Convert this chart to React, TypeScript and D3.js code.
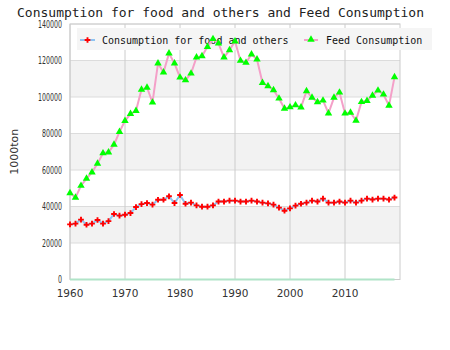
import React from "react";
import * as d3 from "d3";

const years: number[] = d3.range(1960, 2020);
const foodValues: number[] = [
  30200, 30600, 32800, 30000, 30600, 32600, 30600, 32000, 35900, 35000,
  35500, 36400, 39700, 41300, 41900, 41000, 43700, 43700, 45600, 41900,
  46300, 41500, 42100, 40600, 39900, 39900, 40600, 42700, 42700, 43200,
  43200, 42700, 42700, 43200, 42700, 42100, 41700, 41000, 39400, 37700,
  39000, 40500, 41500, 42100, 43200, 42700, 44300, 42100, 42100, 42700,
  42100, 43200, 42100, 43200, 44300, 43800, 44300, 44300, 43800, 44900,
];
const feedValues: number[] = [
  47400, 44850, 51400, 55300, 58700, 63500, 69200, 69700, 73900, 80900,
  86900, 90800, 92400, 104100, 105200, 97000, 118400, 113500, 123900, 118400,
  110700, 109200, 112900, 121700, 122400, 127500, 131800, 129400, 121700, 125700,
  130500, 119900, 118800, 123400, 120600, 107800, 106000, 103800, 99200, 93700,
  94400, 95500, 94300, 103200, 99700, 97200, 98100, 91100, 99700, 102500,
  91000, 91500, 87100, 97300, 97900, 100800, 103600, 101400, 95300, 110900,
];
const yTicks: number[] = [0, 20000, 40000, 60000, 80000, 100000, 120000, 140000];
const xTicks: number[] = [1960, 1970, 1980, 1990, 2000, 2010];
const seriesNames: string[] = ["Consumption for food and others", "Feed Consumption"];
const titleText = "Consumption for food and others and Feed Consumption";
const yAxisTitle = "1000ton";

export default function App() {
  const W = 450, H = 350;
  const left = 70, right = 400, top = 24, bottom = 279.5;
  const x = d3.scaleLinear().domain([1960, 2020]).range([left, right]);
  const y = d3.scaleLinear().domain([0, 140000]).range([bottom, top]);
  const mono = "'DejaVu Sans Mono', monospace";
  const sans = "'DejaVu Sans', sans-serif";

  const lineGen = d3.line<number>().x((_, i) => x(years[i])).y((v) => y(v));
  const cross = d3.symbol().type(d3.symbolCross).size(18)()!;
  const tri = d3.symbol().type(d3.symbolTriangle).size(24)()!;
  const zeros = years.map(() => 0);

  return (
    <svg width={W} height={H} style={{ position: "absolute", left: 0, top: 0 }}>
      <rect x={0} y={0} width={W} height={H} fill="#fff" />
      <text x={17} y={17} fontFamily={mono} fontSize={13} fill="#222">{titleText}</text>

      {/* bands */}
      {yTicks.slice(0, -1).map((t, i) =>
        i % 2 === 1 ? (
          <rect key={"b" + t} x={left} y={y(yTicks[i + 1])} width={right - left} height={y(t) - y(yTicks[i + 1])} fill="#f2f2f2" />
        ) : null
      )}
      {yTicks.map((t) => (
        <line key={"h" + t} x1={left} x2={right} y1={y(t)} y2={y(t)} stroke="#dcdcdc" strokeWidth={1} />
      ))}
      {xTicks.map((t) => (
        <line key={"v" + t} x1={x(t)} x2={x(t)} y1={top} y2={bottom} stroke="#cccccc" strokeWidth={1} />
      ))}
      <rect x={left} y={top} width={right - left} height={bottom - top} fill="none" stroke="#cccccc" strokeWidth={1} />

      {yTicks.map((t) => (
        <text key={"yl" + t} x={62} y={y(t) + 3.5} textAnchor="end" fontFamily={sans} fontSize={10} fill="#333"
          textLength={String(t).length * 4} lengthAdjust="spacingAndGlyphs">{t}</text>
      ))}
      {xTicks.map((t) => (
        <text key={"xl" + t} x={x(t)} y={297} textAnchor="middle" fontFamily={sans} fontSize={10.5} fill="#333">{t}</text>
      ))}
      <text transform={`translate(18,${(top + bottom) / 2}) rotate(-90)`} textAnchor="middle" fontFamily={sans} fontSize={11} fill="#333">{yAxisTitle}</text>

      {/* legend */}
      <rect x={77} y={28} width={355} height={22} fill="#f5f5f5" />
      <line x1={80} x2={95} y1={40} y2={40} stroke="#8ec4f2" strokeWidth={2} />
      <path d={cross} transform="translate(87.5,40)" fill="#ff0000" />
      <text x={102} y={43.5} fontFamily={mono} fontSize={10} fill="#111">{seriesNames[0]}</text>
      <line x1={304} x2={318} y1={40} y2={40} stroke="#f4a0c8" strokeWidth={2} />
      <path d={tri} transform="translate(311,39.5)" fill="#00ff00" />
      <text x={326} y={43.5} fontFamily={mono} fontSize={10} fill="#111">{seriesNames[1]}</text>

      {/* zero series */}
      <path d={lineGen(zeros)!} fill="none" stroke="#b0e4c8" strokeWidth={2} />

      {/* food */}
      <path d={lineGen(foodValues)!} fill="none" stroke="#8ec4f2" strokeWidth={2} />
      {foodValues.map((v, i) => (
        <path key={"f" + i} d={cross} transform={`translate(${x(years[i])},${y(v)})`} fill="#ff0000" />
      ))}
      {/* feed */}
      <path d={lineGen(feedValues)!} fill="none" stroke="#f4a0c8" strokeWidth={2} />
      {feedValues.map((v, i) => (
        <path key={"g" + i} d={tri} transform={`translate(${x(years[i])},${y(v)})`} fill="#00ff00" />
      ))}
    </svg>
  );
}
